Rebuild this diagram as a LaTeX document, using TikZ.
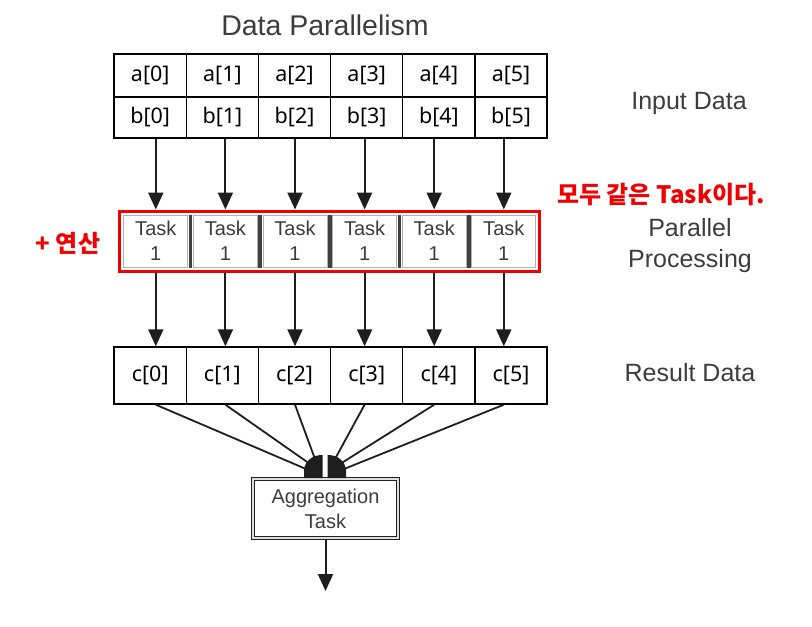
\documentclass[tikz,border=0pt]{standalone}
\usepackage{fontspec}
\setmainfont{Liberation Sans}
\newfontfamily\kr{Noto Sans CJK KR}
\newfontfamily\cellf{Noto Sans}
\usetikzlibrary{arrows.meta,fit,calc}
\definecolor{lbl}{HTML}{3C3C3C}
\definecolor{ln}{HTML}{1E1E1E}
\definecolor{myred}{HTML}{F00000}
\begin{document}
\begin{tikzpicture}[x=1pt,y=-1pt,
  cell/.style={draw=black,line width=1.4pt,minimum width=72.17pt,inner sep=0pt,font=\cellf\fontsize{21.5}{24}\selectfont},
  taskbox/.style={draw=gray!60,line width=1pt,fill=white,minimum width=64pt,minimum height=52pt,inner sep=0pt,align=center,text=lbl,font=\fontsize{20}{25}\selectfont},
  arr/.style={draw=ln,line width=2pt,-{Triangle[width=15pt,length=17pt]}},
  agline/.style={draw=ln,line width=1.8pt},
  lab/.style={text=lbl,font=\fontsize{25}{31}\selectfont,align=center},
  redtxt/.style={text=myred,font=\kr\bfseries\fontsize{24}{28}\selectfont}]
\useasboundingbox (0,0) rectangle (812,627);
% title
\node[text=lbl,font=\fontsize{28.5}{34}\selectfont] (title) at (325,25) {Data Parallelism};
% cells and tasks
\foreach \i in {0,...,5}{
  \node[cell,minimum height=43pt] (a\i) at ({150.2+72.17*\i},75.5) {a[\i]};
  \node[cell,minimum height=41pt] (b\i) at ({150.2+72.17*\i},117.5) {b[\i]};
  \node[cell,minimum height=57pt] (c\i) at ({150.2+72.17*\i},375.5) {c[\i]};
  \node[taskbox] (t\i) at ({155.8+69.6*\i},241) {Task\\1};
}
% dark dividers between task boxes
\foreach \i [count=\j from 1] in {0,...,4}{
  \draw[line width=3.5pt,draw=ln!85] ($(t\i.north east)!0.5!(t\j.north west)$) -- ($(t\i.south east)!0.5!(t\j.south west)$);
}
% red box
\node[draw=myred,line width=3pt,fit=(t0)(t5),inner sep=3.5pt] (redbox) {};
% arrows
\foreach \i in {0,...,5}{
  \draw[arr,shorten >=5pt] (b\i.south -| t\i.north) -- (t\i.north);
  \draw[arr] (redbox.south -| t\i.south) -- (c\i.north -| t\i.south);
}
% aggregation
\node[draw=ln,double=gray!25,double distance=1.3pt,line width=1.4pt,minimum width=145pt,minimum height=59pt,inner sep=0pt,align=center,text=lbl,font=\fontsize{20}{25}\selectfont] (agg) at (325.5,508.5) {Aggregation\\Task};
\coordinate (e0) at (306,469);
\coordinate (e1) at (310,464);
\coordinate (e2) at (315,459);
\coordinate (e3) at (335,459);
\coordinate (e4) at (340,464);
\coordinate (e5) at (344,469);
\foreach \i in {0,...,5}{
  \draw[agline] (c\i.south -| t\i.south) -- (e\i);
}
\fill[ln] (304,478) -- (304,470) .. controls (305,461) and (312,455) .. (322.5,455) -- (322.5,478) -- cycle;
\fill[ln] (346,478) -- (346,470) .. controls (345,461) and (338,455) .. (327.5,455) -- (327.5,478) -- cycle;
\coordinate (out) at (325.5,591);
\draw[arr] (agg.south) -- (out);
% labels
\node[lab] (inp) at (689,103) {Input Data};
\node[lab] (par) at (690,246) {Parallel\\Processing};
\node[lab] (res) at (690,373) {Result Data};
\node[redtxt] (same) at (661,195) {모두 같은 Task이다.};
\node[redtxt] (op) at (68,243) {+ 연산};
\end{tikzpicture}
\end{document}
